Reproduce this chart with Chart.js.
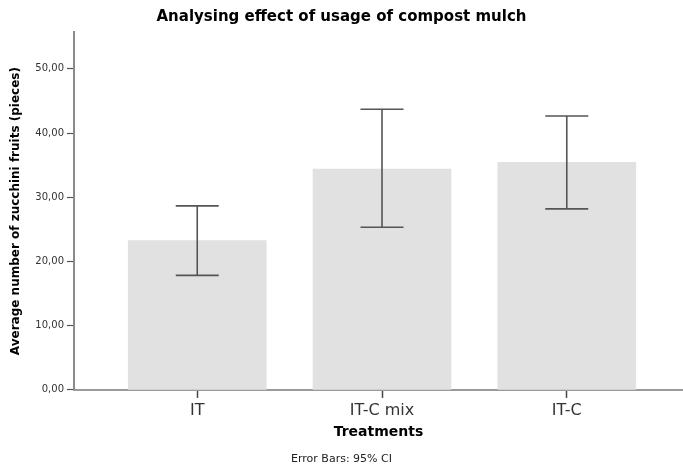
<!DOCTYPE html>
<html>
<head>
<meta charset="utf-8">
<script src="https://cdn.jsdelivr.net/npm/chart.js@4"></script>
<style>
    html, body { margin: 0; padding: 0; background: #fff; }
    #wrap { width: 683px; height: 468px; }
</style>
</head>
<body>
<div id="wrap"><canvas id="chart"></canvas></div>
<script>
// Treatment groups and their mean zucchini counts with 95% CI
const treatments = ['IT', 'IT-C mix', 'IT-C'];
const means = [23.26, 34.39, 35.44];
const ciLow = [17.84, 25.34, 28.19];
const ciHigh = [28.66, 43.71, 42.66];
const yTicks = [0, 10, 20, 30, 40, 50];

const FONT = '"DejaVu Sans", "Liberation Sans", Arial, sans-serif';

// Error bars drawn with the chart's own scales
const errorBars = {
    id: 'errorBars',
    afterDatasetsDraw(chart) {
        const { ctx, scales: { x, y } } = chart;
        ctx.save();
        ctx.strokeStyle = '#555';
        ctx.lineWidth = 1.6;
        treatments.forEach((t, i) => {
            const px = x.getPixelForValue(i);
            const top = y.getPixelForValue(ciHigh[i]);
            const bot = y.getPixelForValue(ciLow[i]);
            const half = 21.5;
            ctx.beginPath();
            ctx.moveTo(px, top);
            ctx.lineTo(px, bot);
            ctx.moveTo(px - half, top);
            ctx.lineTo(px + half, top);
            ctx.moveTo(px - half, bot);
            ctx.lineTo(px + half, bot);
            ctx.stroke();
        });
        ctx.restore();
    },
};

new Chart(document.getElementById('chart'), {
    type: 'bar',
    data: {
        datasets: [{
            data: means.map((m, i) => ({ x: i, y: m })),
            backgroundColor: '#e1e1e1',
            borderWidth: 0,
            barThickness: 138,
        }],
    },
    options: {
        responsive: true,
        maintainAspectRatio: false,
        animation: false,
        layout: { padding: 0 },
        plugins: {
            legend: { display: false },
            tooltip: { enabled: false },
            title: {
                display: true,
                text: 'Analysing effect of usage of compost mulch',
                color: '#000',
                font: { family: FONT, size: 15, weight: 'bold' },
                padding: { top: 8.5, bottom: 5.8 },
            },
            subtitle: {
                display: true,
                position: 'bottom',
                text: 'Error Bars: 95% CI',
                color: '#222',
                font: { family: FONT, size: 11, weight: 'normal' },
                padding: { top: 3.4, bottom: 2 },
            },
        },
        scales: {
            x: {
                type: 'linear',
                offset: false,
                min: -0.667,
                max: 2.629,
                afterBuildTicks: s => { s.ticks = treatments.map((t, i) => ({ value: i })); },
                afterFit: s => { s.height = 59.5; },
                ticks: {
                    callback: v => treatments[v],
                    color: '#333',
                    font: { family: FONT, size: 16 },
                    padding: 3,
                    maxRotation: 0,
                },
                grid: {
                    offset: false,
                    drawOnChartArea: false,
                    tickLength: 8,
                    tickColor: '#444',
                    tickWidth: 1.5,
                },
                border: { color: '#9a9a9a', width: 2 },
                title: {
                    display: true,
                    text: 'Treatments',
                    color: '#000',
                    font: { family: FONT, size: 14, weight: 'bold' },
                    padding: { top: 0, bottom: 9 },
                },
            },
            y: {
                min: 0,
                max: 55.7,
                afterBuildTicks: s => { s.ticks = yTicks.map(v => ({ value: v })); },
                afterFit: s => { s.width = 74; },
                ticks: {
                    callback: v => v.toFixed(2).replace('.', ','),
                    color: '#333',
                    font: { family: FONT, size: 10 },
                    padding: 3,
                },
                grid: {
                    drawOnChartArea: false,
                    tickLength: 7,
                    tickColor: '#555',
                    tickWidth: 1.2,
                },
                border: { color: '#8a8a8a', width: 2 },
                title: {
                    display: true,
                    text: 'Average number of zucchini fruits (pieces)',
                    color: '#000',
                    font: { family: FONT, size: 12, weight: 'bold' },
                    padding: { top: 8.8, bottom: 0 },
                },
            },
        },
    },
    plugins: [errorBars],
});
</script>
</body>
</html>
